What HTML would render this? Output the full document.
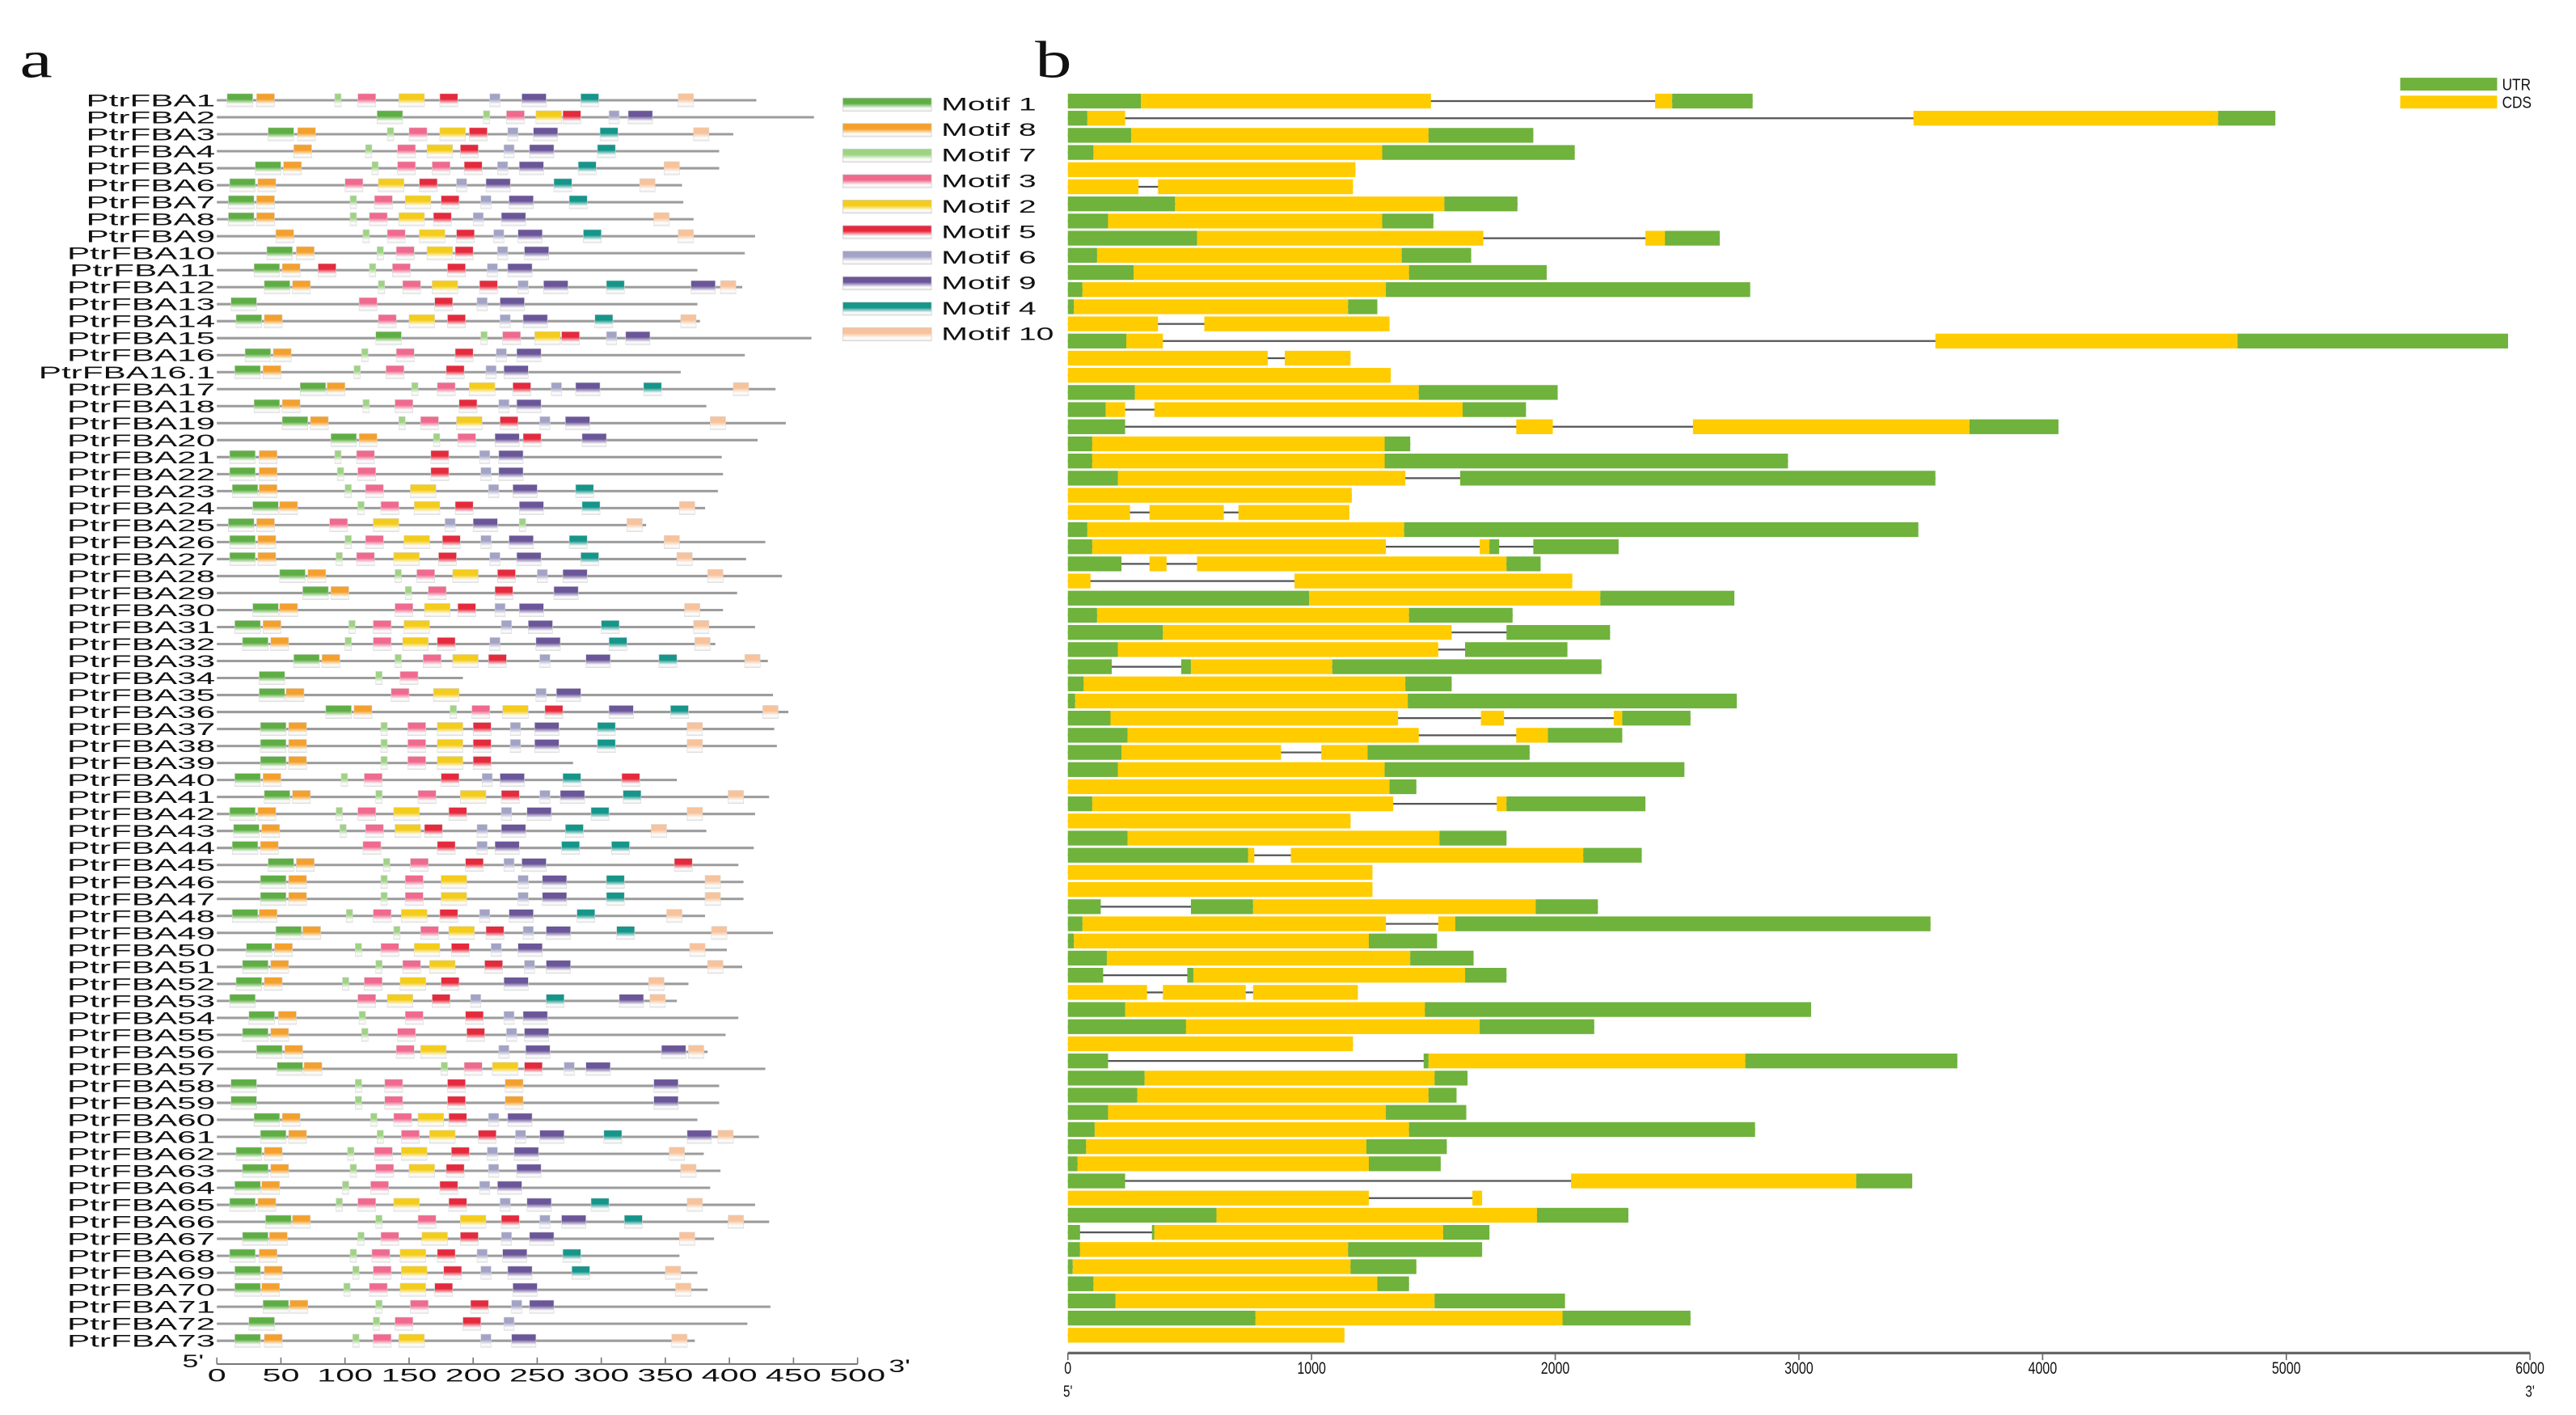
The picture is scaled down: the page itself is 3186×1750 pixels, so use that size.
<!DOCTYPE html>
<html><head><meta charset="utf-8"><title>PtrFBA motifs and gene structures</title>
<style>
html,body{margin:0;padding:0;background:#fff;}
svg{display:block;}
text{font-family:"Liberation Sans",sans-serif;fill:#111;}
</style></head>
<body>
<svg id="fig" xmlns="http://www.w3.org/2000/svg" width="3186" height="1750" viewBox="0 0 1568 861" preserveAspectRatio="none">
<defs id="defs"></defs>
<text transform="translate(12,47) scale(1.4,1)" style="font-family:'Liberation Serif',serif;font-size:32px">a</text>
<text transform="translate(630,47) scale(1.4,1)" style="font-family:'Liberation Serif',serif;font-size:32px">b</text>
<g id="panelA"></g>
<g id="legendA"></g>
<g id="axisA"></g>
<g id="panelB"></g>
<g id="legendB"></g>
<g id="axisB"></g>
</svg>
<script>
// ---------- DATA ----------
const geneNames = ["PtrFBA1","PtrFBA2","PtrFBA3","PtrFBA4","PtrFBA5","PtrFBA6","PtrFBA7","PtrFBA8","PtrFBA9","PtrFBA10","PtrFBA11","PtrFBA12","PtrFBA13","PtrFBA14","PtrFBA15","PtrFBA16","PtrFBA16.1","PtrFBA17","PtrFBA18","PtrFBA19","PtrFBA20","PtrFBA21","PtrFBA22","PtrFBA23","PtrFBA24","PtrFBA25","PtrFBA26","PtrFBA27","PtrFBA28","PtrFBA29","PtrFBA30","PtrFBA31","PtrFBA32","PtrFBA33","PtrFBA34","PtrFBA35","PtrFBA36","PtrFBA37","PtrFBA38","PtrFBA39","PtrFBA40","PtrFBA41","PtrFBA42","PtrFBA43","PtrFBA44","PtrFBA45","PtrFBA46","PtrFBA47","PtrFBA48","PtrFBA49","PtrFBA50","PtrFBA51","PtrFBA52","PtrFBA53","PtrFBA54","PtrFBA55","PtrFBA56","PtrFBA57","PtrFBA58","PtrFBA59","PtrFBA60","PtrFBA61","PtrFBA62","PtrFBA63","PtrFBA64","PtrFBA65","PtrFBA66","PtrFBA67","PtrFBA68","PtrFBA69","PtrFBA70","PtrFBA71","PtrFBA72","PtrFBA73"];
const proteinLengths = [421,466,403,392,392,363,364,372,420,412,375,410,375,377,464,412,362,436,382,444,422,394,395,391,381,335,428,413,441,406,395,420,389,430,192,434,446,435,437,278,359,431,420,382,419,407,411,411,381,434,398,410,368,359,407,397,383,428,392,392,375,423,380,393,385,420,431,388,361,375,383,432,414,373];
const motifOrder = [1,8,7,3,2,5,6,9,4,10];
const motifWidths = {1:20,8:14,7:5,3:14,2:20,5:14,6:8,9:19,4:14,10:12};
const motifSites = [
[[1,8],[8,31],[7,92],[3,110],[2,142],[5,174],[6,213],[9,238],[4,284],[10,360]],
[[1,125],[7,208],[3,226],[2,249],[5,270],[6,306],[9,321]],
[[1,40],[8,63],[7,133],[3,150],[2,174],[5,197],[6,227],[9,247],[4,299],[10,372]],
[[8,60],[7,116],[3,141],[2,164],[5,190],[6,224],[9,244],[4,297]],
[[1,30],[8,52],[7,121],[3,141],[3,168],[5,193],[6,219],[9,236],[4,282],[10,349]],
[[1,10],[8,32],[3,100],[2,126],[5,158],[6,187],[9,210],[4,263],[10,330]],
[[1,9],[8,31],[7,104],[3,123],[2,147],[5,175],[6,206],[9,228],[4,275]],
[[1,9],[8,31],[7,104],[3,119],[2,142],[5,169],[6,200],[9,222],[10,341]],
[[8,46],[7,114],[3,133],[2,158],[5,187],[6,216],[9,235],[4,286],[10,360]],
[[1,39],[8,62],[7,125],[3,140],[2,164],[5,186],[6,219],[9,240]],
[[1,29],[8,51],[5,79],[7,119],[3,137],[5,180],[6,211],[9,227]],
[[1,37],[8,59],[7,126],[3,145],[2,168],[5,205],[6,235],[9,255],[4,304],[9,370],[10,393]],
[[1,11],[3,111],[5,170],[6,203],[9,221]],
[[1,15],[8,37],[3,126],[2,150],[5,180],[6,221],[9,239],[4,295],[10,362]],
[[1,124],[7,206],[3,223],[2,248],[5,269],[6,304],[9,319]],
[[1,22],[8,44],[7,113],[3,140],[5,186],[6,218],[9,234]],
[[1,14],[8,36],[7,107],[3,132],[5,179],[6,210],[9,224]],
[[1,65],[8,86],[7,152],[3,172],[2,197],[5,231],[6,261],[9,280],[4,333],[10,403]],
[[1,29],[8,51],[7,114],[3,139],[5,189],[6,220],[9,234]],
[[1,51],[8,73],[7,142],[3,159],[2,187],[5,221],[6,252],[9,272],[10,385]],
[[1,89],[8,111],[7,169],[3,188],[9,217],[5,239],[9,285]],
[[1,10],[8,33],[7,92],[3,109],[5,167],[6,205],[9,220]],
[[1,10],[8,33],[7,94],[3,110],[5,167],[6,206],[9,220]],
[[1,12],[8,33],[7,100],[3,116],[2,151],[6,212],[9,231],[4,280]],
[[1,28],[8,49],[7,110],[3,128],[2,154],[5,186],[9,236],[4,285],[10,361]],
[[1,9],[8,31],[3,88],[2,122],[6,178],[9,200],[7,236],[10,320]],
[[1,10],[8,32],[7,100],[3,116],[2,146],[5,176],[6,206],[9,228],[4,275],[10,349]],
[[1,10],[8,32],[7,93],[3,109],[2,138],[5,173],[6,213],[9,234],[4,284],[10,359]],
[[1,49],[8,71],[7,139],[3,156],[2,184],[5,219],[6,250],[9,270],[10,383]],
[[1,67],[8,89],[7,147],[3,165],[5,217],[9,263]],
[[1,28],[8,49],[3,139],[2,162],[5,188],[6,217],[9,236],[10,365]],
[[1,14],[8,36],[7,103],[3,122],[2,146],[6,222],[9,243],[4,300],[10,372]],
[[1,20],[8,42],[7,100],[3,122],[2,145],[5,172],[6,213],[9,249],[4,306],[10,373]],
[[1,60],[8,82],[7,139],[3,161],[2,184],[5,212],[6,252],[9,288],[4,345],[10,412]],
[[1,33],[7,124],[3,143]],
[[1,33],[8,54],[3,136],[2,169],[6,249],[9,265]],
[[1,85],[8,107],[7,182],[3,199],[2,223],[5,256],[9,306],[4,354],[10,426]],
[[1,34],[8,56],[7,128],[3,149],[2,172],[5,200],[6,229],[9,248],[4,297],[10,367]],
[[1,34],[8,56],[7,128],[3,149],[2,172],[5,200],[6,229],[9,248],[4,297],[10,367]],
[[1,34],[8,56],[7,128],[3,149],[2,172],[5,200]],
[[1,14],[8,36],[7,97],[3,115],[5,175],[6,207],[9,221],[4,270],[5,316]],
[[1,37],[8,59],[7,124],[3,157],[2,190],[5,222],[6,252],[9,268],[4,317],[10,399]],
[[1,10],[8,32],[7,93],[3,110],[2,138],[5,181],[6,222],[9,242],[4,292],[10,367]],
[[1,13],[8,35],[7,96],[3,116],[2,139],[5,162],[6,203],[9,222],[4,272],[10,339]],
[[1,12],[8,34],[3,114],[5,172],[6,203],[9,217],[4,269],[4,308]],
[[1,40],[8,62],[7,130],[3,151],[5,194],[6,224],[9,238],[5,357]],
[[1,34],[8,56],[7,128],[3,147],[2,175],[6,235],[9,254],[4,304],[10,381]],
[[1,34],[8,56],[7,128],[3,147],[2,175],[6,235],[9,254],[4,304],[10,381]],
[[1,12],[8,33],[7,101],[3,122],[2,144],[5,174],[6,205],[9,228],[4,281],[10,351]],
[[1,46],[8,67],[7,138],[3,159],[2,181],[5,210],[6,239],[9,257],[4,312],[10,386]],
[[1,23],[8,45],[7,108],[3,128],[2,154],[5,183],[6,214],[9,235],[10,369]],
[[1,20],[8,42],[7,124],[3,145],[2,166],[5,209],[6,240],[9,257],[10,383]],
[[1,15],[8,37],[7,98],[3,115],[2,143],[5,175],[9,224],[10,337]],
[[1,10],[3,110],[2,133],[5,168],[6,198],[4,257],[9,314],[10,338]],
[[1,25],[8,48],[7,111],[3,147],[5,194],[6,224],[9,239]],
[[1,20],[8,42],[7,113],[3,141],[5,195],[6,226],[9,240]],
[[1,31],[8,53],[3,140],[2,159],[6,220],[9,241],[9,347],[10,368]],
[[1,47],[8,68],[7,175],[3,193],[2,215],[5,240],[6,271],[9,288]],
[[1,11],[7,108],[3,131],[5,180],[8,225],[9,341]],
[[1,11],[7,108],[3,131],[5,180],[8,225],[9,341]],
[[1,29],[8,51],[7,120],[3,138],[2,157],[5,181],[6,212],[9,227]],
[[1,34],[8,56],[7,125],[3,144],[2,166],[5,204],[6,233],[9,252],[4,302],[9,367],[10,391]],
[[1,15],[8,37],[7,102],[3,123],[2,144],[5,183],[6,211],[9,232],[10,353]],
[[1,20],[8,42],[7,104],[3,124],[2,150],[5,179],[6,212],[9,234],[10,362]],
[[1,14],[8,35],[7,98],[3,120],[5,174],[6,205],[9,219]],
[[1,10],[8,32],[7,93],[3,110],[2,138],[5,181],[6,221],[9,242],[4,292],[10,367]],
[[1,38],[8,59],[7,124],[3,157],[2,190],[5,222],[6,252],[9,269],[4,318],[10,399]],
[[1,20],[8,41],[7,110],[3,128],[2,160],[5,190],[6,222],[9,244],[10,361]],
[[1,10],[8,33],[7,104],[3,121],[2,143],[5,172],[6,203],[9,223],[4,270]],
[[1,14],[8,37],[7,106],[3,122],[2,144],[5,177],[6,206],[9,227],[4,277],[10,350]],
[[1,14],[8,35],[7,99],[3,119],[2,143],[5,170],[9,231],[10,358]],
[[1,36],[8,57],[7,124],[3,151],[5,198],[6,230],[9,244]],
[[1,25],[7,122],[3,139],[5,192],[6,224]],
[[1,14],[8,37],[7,106],[3,122],[2,142],[6,206],[9,230],[10,355]]
];
// gene structure segments: [type (0=UTR,1=CDS), start bp, end bp]
const geneSegments = [
[[0,0,300],[1,300,1490],[1,2410,2480],[0,2480,2810]],
[[0,0,80],[1,80,235],[1,3470,4720],[0,4720,4955]],
[[0,0,260],[1,260,1480],[0,1480,1910]],
[[0,0,105],[1,105,1290],[0,1290,2080]],
[[1,0,1180]],
[[1,0,290],[1,370,1170]],
[[0,0,440],[1,440,1545],[0,1545,1845]],
[[0,0,165],[1,165,1290],[0,1290,1500]],
[[0,0,530],[1,530,1705],[1,2370,2450],[0,2450,2675]],
[[0,0,120],[1,120,1370],[0,1370,1655]],
[[0,0,270],[1,270,1400],[0,1400,1965]],
[[0,0,60],[1,60,1305],[0,1305,2800]],
[[0,0,25],[1,25,1150],[0,1150,1270]],
[[1,0,370],[1,560,1320]],
[[0,0,240],[1,240,390],[1,3560,4800],[0,4800,5910]],
[[1,0,820],[1,890,1160]],
[[1,0,1325]],
[[0,0,275],[1,275,1440],[0,1440,2010]],
[[0,0,155],[1,155,235],[1,355,1620],[0,1620,1880]],
[[0,0,235],[1,1840,1990],[1,2565,3700],[0,3700,4065]],
[[0,0,100],[1,100,1300],[0,1300,1405]],
[[0,0,100],[1,100,1300],[0,1300,2955]],
[[0,0,205],[1,205,1385],[0,1610,3560]],
[[1,0,1165]],
[[1,0,255],[1,335,640],[1,700,1155]],
[[0,0,80],[1,80,1380],[0,1380,3490]],
[[0,0,100],[1,100,1305],[1,1690,1730],[0,1730,1770],[0,1910,2260]],
[[0,0,220],[1,335,405],[1,530,1800],[0,1800,1940]],
[[1,0,93],[1,930,2070]],
[[0,0,990],[1,990,2185],[0,2185,2735]],
[[0,0,120],[1,120,1400],[0,1400,1825]],
[[0,0,390],[1,390,1575],[0,1800,2225]],
[[0,0,205],[1,205,1520],[0,1630,2050]],
[[0,0,180],[0,465,505],[1,505,1085],[0,1085,2190]],
[[0,0,65],[1,65,1385],[0,1385,1575]],
[[0,0,30],[1,30,1395],[0,1395,2745]],
[[0,0,175],[1,175,1355],[1,1695,1790],[1,2240,2275],[0,2275,2555]],
[[0,0,245],[1,245,1440],[1,1840,1970],[0,1970,2275]],
[[0,0,220],[1,220,875],[1,1040,1230],[0,1230,1895]],
[[0,0,205],[1,205,1300],[0,1300,2530]],
[[1,0,1320],[0,1320,1430]],
[[0,0,100],[1,100,1335],[1,1760,1800],[0,1800,2370]],
[[1,0,1160]],
[[0,0,245],[1,245,1525],[0,1525,1800]],
[[0,0,740],[1,740,765],[1,915,2115],[0,2115,2355]],
[[1,0,1250]],
[[1,0,1250]],
[[0,0,135],[0,505,760],[1,760,1920],[0,1920,2175]],
[[0,0,60],[1,60,1305],[1,1520,1590],[0,1590,3540]],
[[0,0,25],[1,25,1235],[0,1235,1515]],
[[0,0,160],[1,160,1405],[0,1405,1665]],
[[0,0,145],[0,490,515],[1,515,1630],[0,1630,1800]],
[[1,0,325],[1,390,730],[1,760,1190]],
[[0,0,235],[1,235,1465],[0,1465,3050]],
[[0,0,485],[1,485,1690],[0,1690,2160]],
[[1,0,1170]],
[[0,0,165],[0,1460,1480],[1,1480,2780],[0,2780,3650]],
[[0,0,315],[1,315,1505],[0,1505,1640]],
[[0,0,285],[1,285,1480],[0,1480,1595]],
[[0,0,165],[1,165,1305],[0,1305,1635]],
[[0,0,110],[1,110,1400],[0,1400,2820]],
[[0,0,75],[1,75,1225],[0,1225,1555]],
[[0,0,40],[1,40,1235],[0,1235,1530]],
[[0,0,235],[1,2065,3235],[0,3235,3465]],
[[1,0,1235],[1,1660,1700]],
[[0,0,610],[1,610,1925],[0,1925,2300]],
[[0,0,50],[0,345,355],[1,355,1540],[0,1540,1730]],
[[0,0,50],[1,50,1150],[0,1150,1700]],
[[0,0,20],[1,20,1160],[0,1160,1430]],
[[0,0,105],[1,105,1270],[0,1270,1400]],
[[0,0,195],[1,195,1505],[0,1505,2040]],
[[0,0,770],[1,770,2030],[0,2030,2555]],
[[1,0,1135]]
];
const aTicks = [0,50,100,150,200,250,300,350,400,450,500];
const bTicks = [0,1000,2000,3000,4000,5000,6000];
const segmentLabels = ["UTR","CDS"];

// ---------- STYLE / SCALES ----------
const NS = "http://www.w3.org/2000/svg";
const motifColors = {1:"#5fae45",8:"#f3a02e",7:"#9fd383",3:"#ef6a8e",2:"#f4cc1c",5:"#e42a3d",6:"#a3a3c6",9:"#6a5698",4:"#16958a",10:"#f7c39c"};
const segColors = ["#6fb23c","#ffcc00"];
const xa = aa => 132 + aa * 0.78;
const ya = i => 61 + i * 10.34;
const xb = bp => 650 + bp * (890 / 6000);
const yb = i => 61.5 + i * 10.43;

function el(tag, attrs, parent, txt) {
  const e = document.createElementNS(NS, tag);
  for (const k in attrs) e.setAttribute(k, attrs[k]);
  if (txt !== undefined) e.textContent = txt;
  parent.appendChild(e);
  return e;
}

const defs = document.getElementById("defs");
motifOrder.forEach(m => {
  const g = el("linearGradient", {id: "mg" + m, x1: 0, y1: 0, x2: 0, y2: 1}, defs);
  el("stop", {offset: "0", "stop-color": motifColors[m]}, g);
  el("stop", {offset: "0.42", "stop-color": motifColors[m]}, g);
  el("stop", {offset: "0.8", "stop-color": "#ffffff"}, g);
  el("stop", {offset: "1", "stop-color": "#e6e6e6"}, g);
});

// ---------- PANEL A ----------
const pA = document.getElementById("panelA");
geneNames.forEach((name, i) => {
  const y = ya(i);
  const t = el("text", {transform: `translate(131,${(y + 3.7).toFixed(2)}) scale(2.0,1)`, "text-anchor": "end", "font-size": "10.4"}, pA, name);
  
  
  const ln = el("line", {x1: xa(0), x2: xa(proteinLengths[i]), y1: y, y2: y, stroke: "#9c9c9c", "stroke-width": 1.5}, pA);
  
  
  (motifSites[i] || []).forEach(([m, s]) => {
    const r = el("rect", {x: xa(s), y: y - 4, width: motifWidths[m] * 0.78, height: 8, fill: `url(#mg${m})`, stroke: "#d8d8d8", "stroke-width": 0.3}, pA);
    
    
  });
});

// legend a
const lA = document.getElementById("legendA");
motifOrder.forEach((m, k) => {
  const y = 59.6 + k * 15.53;
  const r = el("rect", {x: 513, y: y, width: 54, height: 8, fill: `url(#mg${m})`, stroke: "#d0d0d0", "stroke-width": 0.4}, lA);
  
  
  const t = el("text", {transform: `translate(573,${y + 7.6}) scale(1.8,1)`, "font-size": "10.7", fill: "#333"}, lA, "Motif " + m);
  
  
});

// axis a
const axA = document.getElementById("axisA");
const axALine = el("line", {x1: xa(0), x2: xa(500), y1: 830, y2: 830, stroke: "#777", "stroke-width": 1}, axA);


aTicks.forEach(v => {
  const tk = el("line", {x1: xa(v), x2: xa(v), y1: 826, y2: 830, stroke: "#777", "stroke-width": 0.8}, axA);
  
  
  const t = el("text", {transform: `translate(${xa(v)},840.6) scale(1.85,1)`, "text-anchor": "middle", "font-size": "11", fill: "#333"}, axA, String(v));
  
  
});
const a5 = el("text", {transform: "translate(111,832) scale(1.6,1)", "font-size": "11", fill: "#333"}, axA, "5'");


const a3 = el("text", {transform: "translate(541,835) scale(1.6,1)", "font-size": "11", fill: "#333"}, axA, "3'");



// ---------- PANEL B ----------
const pB = document.getElementById("panelB");
geneSegments.forEach((segs, i) => {
  const y = yb(i);
  const s0 = Math.min(...segs.map(s => s[1]));
  const s1 = Math.max(...segs.map(s => s[2]));
  const ln = el("line", {x1: xb(s0), x2: xb(s1), y1: y, y2: y, stroke: "#555", "stroke-width": 1.1}, pB);
  
  
  segs.forEach(([tp, s, e]) => {
    const r = el("rect", {x: xb(s), y: y - 4.5, width: Math.max(0.6, xb(e) - xb(s)), height: 9, fill: segColors[tp]}, pB);
    
    
  });
});

// legend b
const lB = document.getElementById("legendB");
segmentLabels.forEach((lab, k) => {
  const y = 47.3 + k * 10.9;
  const r = el("rect", {x: 1461, y: y, width: 59, height: 7.8, fill: segColors[k]}, lB);
  
  
  const t = el("text", {transform: `translate(1523,${y + 7.5}) scale(0.85,1)`, "font-size": "10", fill: "#333"}, lB, lab);
  
  
});

// axis b
const axB = document.getElementById("axisB");
const axBLine = el("line", {x1: xb(0), x2: xb(6000), y1: 823.3, y2: 823.3, stroke: "#666", "stroke-width": 1.6}, axB);


bTicks.forEach(v => {
  const tk = el("line", {x1: xb(v), x2: xb(v), y1: 823.3, y2: 827.6, stroke: "#666", "stroke-width": 0.8}, axB);
  
  
  const t = el("text", {transform: `translate(${xb(v)},835.8) scale(0.75,1)`, "text-anchor": "middle", "font-size": "10.5", fill: "#444"}, axB, String(v));
  
  
});
const b5 = el("text", {transform: `translate(${xb(0)},850) scale(0.75,1)`, "text-anchor": "middle", "font-size": "10", fill: "#444"}, axB, "5'");


const b3 = el("text", {transform: `translate(${xb(6000)},850) scale(0.75,1)`, "text-anchor": "middle", "font-size": "10", fill: "#444"}, axB, "3'");


</script>
</body></html>
